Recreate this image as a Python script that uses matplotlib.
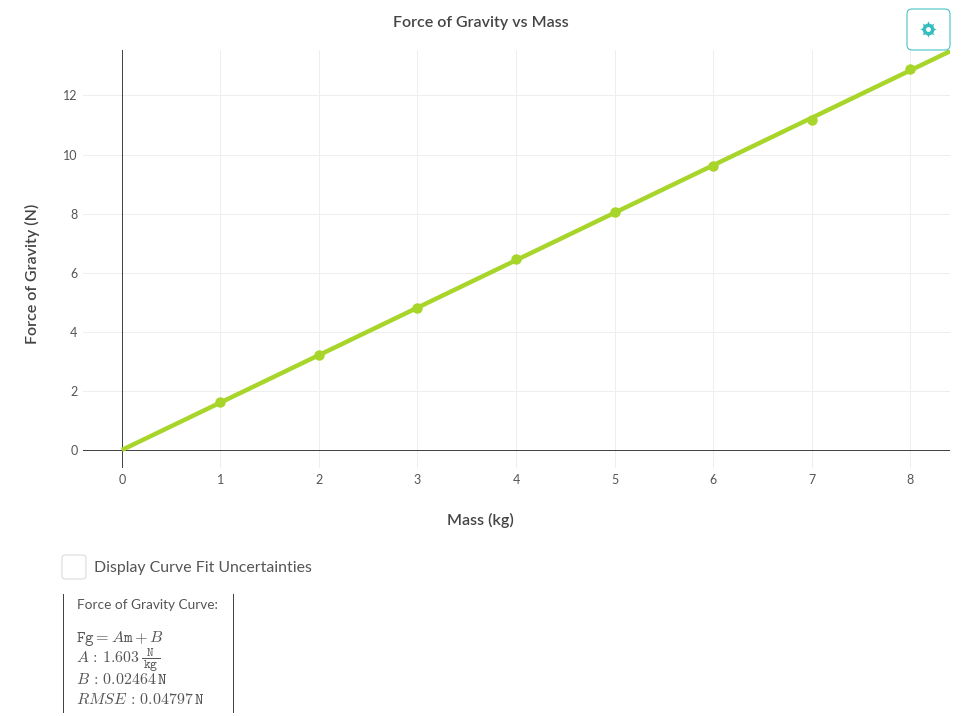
#!/usr/bin/env python3
"""Force of gravity vs mass, with the curve fit summary below the plot."""
import matplotlib
matplotlib.use('Agg')
import matplotlib.pyplot as plt
from matplotlib.patches import FancyBboxPatch

W, H = 961, 716

mass = [1, 2, 3, 4, 5, 6, 7, 8]
force = [1.63, 3.2, 4.82, 6.47, 8.05, 9.63, 11.17, 12.9]
fit_mass = [0, 8.5]
fit_force = [0.0, 13.65]
x_ticks = [0, 1, 2, 3, 4, 5, 6, 7, 8]
y_ticks = [0, 2, 4, 6, 8, 10, 12]

TEXT = '#444444'
SOFT = '#555555'
GREEN = '#a7d52a'
TEAL = '#37bdc0'
GRID = '#eeeeee'
PX = 0.72  # one pixel, in points

plt.rcParams['font.family'] = ['Lato', 'DejaVu Sans']
plt.rcParams['mathtext.fontset'] = 'cm'

fig = plt.figure(figsize=(W / 100, H / 100), dpi=100, facecolor='white')

# plot area, in pixels of the reference
left, right, top, bottom = 83, 950, 50, 468
ax = fig.add_axes([left / W, 1 - bottom / H, (right - left) / W, (bottom - top) / H])
ax.set_xlim(-0.395, 8.405)
ax.set_ylim(-0.61, 13.54)
for s in ax.spines.values():
    s.set_visible(False)
ax.set_xticks(x_ticks)
ax.set_yticks(y_ticks)
ax.grid(True, color=GRID, linewidth=PX)
ax.set_axisbelow(True)
ax.tick_params(length=0, labelsize=9, labelcolor=SOFT, pad=4)
ax.axhline(0, color=TEXT, linewidth=PX, zorder=2)
ax.axvline(0, color=TEXT, linewidth=PX, zorder=2)
ax.plot(fit_mass, fit_force, color=GREEN, linewidth=3.2, zorder=3, solid_capstyle='butt')
ax.plot(mass, force, 'o', color=GREEN, markersize=7.5, markeredgewidth=0, zorder=4, clip_on=False)

# overlay in pixel coordinates for everything around the plot
ov = fig.add_axes([0, 0, 1, 1], facecolor='none')
ov.set_xlim(0, W)
ov.set_ylim(H, 0)
ov.axis('off')

ov.text(480.5, 23.5, 'Force of Gravity vs Mass', ha='center', va='center',
        fontsize=11.5, fontweight='semibold', color=TEXT)
ov.text(480.5, 520, 'Mass (kg)', ha='center', va='center',
        fontsize=11.5, fontweight='semibold', color=TEXT)
ov.text(32, 274, 'Force of Gravity (N)', ha='center', va='center', rotation=90,
        fontsize=11.5, fontweight='semibold', color=TEXT)

# settings button
ov.add_patch(FancyBboxPatch((909, 11), 39, 37, boxstyle='round,pad=2,rounding_size=5',
                            facecolor='white', edgecolor=TEAL, linewidth=PX, zorder=5))
ov.plot([927.5], [28.5], marker=(8, 1, 0), markersize=12, color=TEAL, markeredgewidth=0, zorder=6)
ov.plot([927.5], [28.5], marker='o', markersize=8.5, color=TEAL, markeredgewidth=0, zorder=6)
ov.plot([927.5], [28.5], marker='o', markersize=3.5, color='white', markeredgewidth=0, zorder=7)

# checkbox and label
ov.add_patch(FancyBboxPatch((64, 557), 20, 20, boxstyle='round,pad=2,rounding_size=3',
                            facecolor='white', edgecolor='#d8d8d8', linewidth=PX))
ov.text(94, 568, 'Display Curve Fit Uncertainties', ha='left', va='center',
        fontsize=11.47, color=SOFT)

# fit summary box
ov.plot([62.5, 62.5], [594, 712], color=TEXT, linewidth=PX)
ov.plot([232.5, 232.5], [594, 712], color=TEXT, linewidth=PX)
ov.text(77, 605, 'Force of Gravity Curve:', ha='left', va='center', fontsize=9.85, color=SOFT)
ov.text(76, 642, r'$\mathtt{Fg}=A\mathtt{m}+B$', ha='left', va='baseline', fontsize=11.6, color=SOFT)
ov.text(76, 662, r'$A\,:\,1.603$', ha='left', va='baseline', fontsize=11.4, color=SOFT)
# the unit fraction is set by hand so that it stays clear of the lines around it
ov.text(150.5, 656, r'$\mathtt{N}$', ha='center', va='baseline', fontsize=9, color=SOFT)
ov.plot([142, 160], [658, 658], color=SOFT, linewidth=PX)
ov.text(150.5, 668, r'$\mathtt{kg}$', ha='center', va='baseline', fontsize=9.5, color=SOFT)
ov.text(76, 684, r'$B\,:\,0.02464\,\mathtt{N}$', ha='left', va='baseline', fontsize=11.5, color=SOFT)
ov.text(76, 704, r'$RMSE\,:\,0.04797\,\mathtt{N}$', ha='left', va='baseline', fontsize=11.5, color=SOFT)

fig.savefig('out.png', dpi=100, facecolor='white')
